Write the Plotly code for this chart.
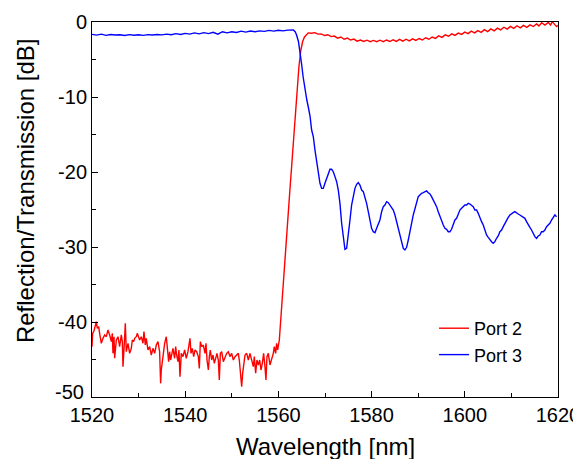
import plotly.graph_objects as go

# ---------------- data ----------------
# Port 2 (reflection) : noisy floor, steep edge, flat top with ripple
port2_wl = [
    1520.00, 1520.14, 1520.43, 1520.72, 1520.93, 1521.14, 1521.43, 1521.64, 1522.00, 1522.36,
    1522.72, 1523.07, 1523.43, 1523.79, 1524.15, 1524.36, 1524.50, 1524.72, 1524.86, 1525.22,
    1525.58, 1525.93, 1526.29, 1526.51, 1526.65, 1526.86, 1527.15, 1527.36, 1527.72, 1528.08,
    1528.44, 1528.65, 1528.94, 1529.15, 1529.51, 1529.72, 1530.01, 1530.22, 1530.58, 1530.94,
    1531.15, 1531.44, 1531.65, 1532.01, 1532.37, 1532.73, 1533.08, 1533.44, 1533.80, 1534.16,
    1534.51, 1534.73, 1534.87, 1535.23, 1535.59, 1535.94, 1536.16, 1536.45, 1536.66, 1536.87,
    1537.16, 1537.37, 1537.73, 1537.95, 1538.16, 1538.45, 1538.66, 1538.88, 1539.16, 1539.52,
    1539.88, 1540.23, 1540.59,
    1541.03, 1541.25, 1541.53, 1541.82, 1542.11, 1542.46, 1542.82, 1543.03, 1543.25, 1543.54,
    1543.89, 1544.25, 1544.46, 1544.68, 1544.97, 1545.18, 1545.39, 1545.68, 1545.97, 1546.25,
    1546.54, 1546.82, 1547.11, 1547.32, 1547.54, 1547.83, 1548.18, 1548.54, 1548.90, 1549.26,
    1549.61, 1549.97, 1550.33, 1550.69, 1551.04, 1551.40, 1551.61, 1551.90, 1552.12, 1552.33,
    1552.54, 1552.83, 1553.19, 1553.55, 1553.90, 1554.26, 1554.62, 1554.83, 1555.12, 1555.40,
    1555.69, 1555.98, 1556.26, 1556.55, 1556.83, 1557.12, 1557.33, 1557.55, 1557.84, 1558.19,
    1558.55, 1558.91, 1559.12, 1559.41, 1559.62, 1559.84,
    1560.20, 1560.60, 1561.20, 1561.80, 1562.40, 1563.00, 1563.50, 1564.00, 1564.40, 1564.80,
    1565.20, 1565.60, 1566.00,
    1566.4, 1567.1, 1567.8, 1568.5, 1569.2, 1569.9, 1570.6, 1571.3, 1572.0, 1572.7,
    1573.4, 1574.1, 1574.8, 1575.5, 1576.2, 1576.9, 1577.6, 1578.3, 1579.0, 1579.7,
    1580.4, 1581.1, 1581.8, 1582.5, 1583.2, 1583.9, 1584.6, 1585.3, 1586.0, 1586.7,
    1587.4, 1588.1, 1588.8, 1589.5, 1590.2, 1590.9, 1591.6, 1592.3, 1593.0, 1593.7,
    1594.4, 1595.1, 1595.8, 1596.5, 1597.2, 1597.9, 1598.6, 1599.3, 1600.0, 1600.7,
    1601.4, 1602.1, 1602.8, 1603.5, 1604.2, 1604.9, 1605.6, 1606.3, 1607.0, 1607.7,
    1608.4, 1609.1, 1609.8, 1610.5, 1611.2, 1611.9, 1612.6, 1613.3, 1614.0, 1614.7,
    1615.4, 1615.9, 1616.5, 1617.2, 1617.9, 1618.4, 1618.8, 1619.3, 1619.7, 1620.0,
]
port2_db = [
    -43.29, -41.51, -41.16, -40.40, -39.96, -40.84, -40.62, -41.51, -42.84, -42.18,
    -41.73, -41.96, -41.07, -41.73, -42.62, -41.51, -44.18, -41.96, -44.84, -42.40,
    -41.96, -43.29, -41.73, -42.62, -45.96, -43.73, -40.18, -43.96, -42.84, -44.18,
    -43.51, -42.40, -42.62, -42.18, -41.96, -41.51, -42.18, -42.40, -41.96, -42.84,
    -41.29, -43.07, -42.18, -43.73, -43.29, -44.40, -43.51, -44.18, -43.07, -42.62,
    -43.96, -48.18, -46.40, -44.18, -42.84, -41.96, -43.51, -45.29, -43.96, -45.07,
    -44.18, -43.51, -44.84, -43.29, -44.40, -45.29, -43.73, -47.29, -44.18, -44.62,
    -43.73, -44.84, -43.96,
    -42.18, -44.18, -43.51, -44.62, -43.73, -43.96, -44.62, -46.18, -42.62, -43.29,
    -43.07, -44.18, -42.84, -45.07, -46.40, -44.62, -43.73, -45.07, -44.40, -45.51,
    -44.84, -44.18, -45.07, -47.73, -44.18, -43.96, -45.29, -44.84, -44.18, -43.96,
    -44.62, -44.18, -45.07, -44.62, -44.40, -44.18, -45.07, -46.62, -48.62, -46.84,
    -45.51, -44.40, -44.18, -45.07, -44.18, -45.07, -45.96, -44.62, -46.84, -45.07,
    -45.73, -45.07, -46.40, -45.51, -44.18, -45.96, -47.73, -44.62, -44.18, -45.73,
    -45.07, -44.18, -43.29, -44.18, -42.84, -43.73,
    -42.40, -38.60, -33.40, -28.20, -23.00, -17.90, -13.50, -9.00, -6.00, -3.80,
    -2.60, -2.00, -1.70,
    -1.45, -1.50, -1.42, -1.62, -1.58, -1.80, -1.70, -1.95, -1.88, -2.15,
    -2.00, -2.30, -2.15, -2.40, -2.28, -2.55, -2.40, -2.60, -2.42, -2.62,
    -2.45, -2.62, -2.42, -2.62, -2.40, -2.60, -2.38, -2.58, -2.32, -2.55,
    -2.30, -2.52, -2.25, -2.45, -2.20, -2.40, -2.10, -2.30, -2.00, -2.18,
    -1.85, -2.05, -1.72, -1.90, -1.58, -1.78, -1.48, -1.65, -1.35, -1.55,
    -1.22, -1.45, -1.15, -1.38, -1.02, -1.28, -0.92, -1.18, -0.82, -1.05,
    -0.70, -0.95, -0.58, -0.85, -0.50, -0.78, -0.45, -0.72, -0.38, -0.60,
    -0.25, -0.52, -0.10, -0.42, -0.05, -0.40, 0.05, -0.35, -0.60, -0.45,
]

# Port 3 (transmission) : flat pass band, steep edge, sidelobes
port3_wl = [
    1520, 1521, 1522, 1523, 1524, 1525, 1526, 1527, 1528, 1529,
    1530, 1531, 1532, 1533, 1534, 1535, 1536, 1537, 1538, 1539,
    1540, 1541, 1542, 1543, 1544, 1545, 1546, 1547, 1548, 1549,
    1550, 1551, 1552, 1553, 1554, 1555, 1556, 1557, 1558, 1559,
    1560, 1561, 1562, 1562.8,
    1563.2, 1563.6, 1563.9, 1564.3, 1564.6, 1565.0, 1565.3, 1565.7, 1566.1, 1566.5, 1566.8,
    1567.13, 1567.49, 1567.85, 1568.21, 1568.56, 1568.92, 1569.28, 1569.64, 1569.99, 1570.35,
    1570.71, 1571.07, 1571.42, 1571.78, 1572.14, 1572.50, 1572.85, 1573.21, 1573.57, 1573.93,
    1574.28, 1574.64, 1575.00, 1575.36, 1575.71, 1576.07, 1576.43, 1576.79, 1577.14, 1577.50,
    1577.86, 1578.22, 1578.57, 1578.93, 1579.29, 1579.65, 1580.00, 1580.36, 1580.72, 1581.08,
    1581.43, 1581.79, 1582.15, 1582.51, 1582.86, 1583.22, 1583.58, 1583.94, 1584.29, 1584.65,
    1585.01, 1585.37, 1585.72, 1586.08, 1586.44, 1586.80, 1587.15, 1587.51, 1587.87, 1588.23,
    1588.58, 1588.94, 1589.30, 1589.66, 1590.01, 1590.37, 1590.73, 1591.09, 1591.44, 1591.80,
    1592.16, 1592.52, 1592.87, 1593.23, 1593.59, 1593.95, 1594.30, 1594.66, 1595.02, 1595.38,
    1595.73, 1596.09, 1596.45, 1596.81, 1597.16, 1597.52, 1597.88, 1598.24, 1598.59, 1598.95,
    1599.31, 1599.67, 1600.02, 1600.38, 1600.74, 1601.10, 1601.45, 1601.81, 1602.17, 1602.53,
    1602.88, 1603.24, 1603.60, 1603.96, 1604.31, 1604.67, 1605.03, 1605.39, 1605.74, 1606.10,
    1606.46, 1606.82, 1607.17, 1607.53, 1607.89, 1608.25, 1608.60, 1608.96, 1609.32, 1609.68,
    1610.03, 1610.39, 1610.75, 1611.11, 1611.46, 1611.82, 1612.18, 1612.54, 1612.89, 1613.25,
    1613.61, 1613.97, 1614.32, 1614.68, 1615.04, 1615.40, 1615.75, 1616.11, 1616.47, 1616.83,
    1617.18, 1617.54, 1617.90, 1618.26, 1618.61, 1618.97, 1619.33, 1619.69,
]
port3_db = [
    -1.65, -1.75, -1.62, -1.78, -1.66, -1.74, -1.70, -1.80, -1.68, -1.76,
    -1.70, -1.78, -1.68, -1.74, -1.66, -1.72, -1.62, -1.70, -1.55, -1.66,
    -1.52, -1.62, -1.45, -1.58, -1.42, -1.55, -1.38, -1.62, -1.30, -1.45,
    -1.30, -1.40, -1.22, -1.35, -1.20, -1.30, -1.18, -1.25, -1.12, -1.22,
    -1.10, -1.18, -1.08, -1.10,
    -1.07, -1.30, -1.73, -2.60, -3.73, -5.70, -7.30, -9.00, -10.40, -11.60, -12.60,
    -14.40, -15.29, -17.07, -18.40, -20.18, -21.51, -22.18, -22.18, -21.51, -20.84,
    -20.18, -19.64, -19.64, -19.96, -20.62, -21.29, -22.40, -24.18, -26.84, -29.07,
    -30.31, -30.18, -28.62, -26.40, -24.40, -23.07, -22.18, -21.64, -21.42, -21.73,
    -22.40, -22.62, -23.29, -24.18, -25.29, -26.40, -27.51, -27.96, -28.09, -27.51,
    -27.07, -26.40, -25.29, -24.62, -24.40, -23.96, -24.09, -24.40, -24.84, -25.07,
    -25.73, -26.62, -27.73, -28.62, -29.29, -30.18, -30.40, -30.04, -29.07, -27.73,
    -26.84, -25.73, -24.84, -23.96, -23.29, -23.07, -22.84, -22.76, -22.62, -22.53,
    -22.76, -22.93, -23.29, -23.73, -23.96, -24.62, -25.29, -25.96, -26.40, -27.07,
    -27.51, -27.64, -27.96, -27.96, -27.64, -26.84, -26.40, -26.18, -25.51, -25.07,
    -24.84, -24.62, -24.40, -24.40, -24.18, -24.27, -24.40, -24.62, -25.07, -25.07,
    -25.51, -26.18, -26.62, -27.07, -27.73, -28.40, -28.71, -29.07, -29.29, -29.51,
    -29.29, -28.84, -28.53, -27.96, -27.73, -27.29, -26.84, -26.40, -26.04, -25.73,
    -25.51, -25.42, -25.29, -25.51, -25.60, -25.73, -25.87, -26.04, -26.18, -26.62,
    -27.07, -27.38, -27.73, -28.18, -28.62, -28.84, -28.53, -28.40, -27.96, -27.96,
    -27.73, -27.29, -27.07, -26.84, -26.40, -25.96, -25.73, -25.96,
]

x_ticks = [1520, 1540, 1560, 1580, 1600, 1620]
y_ticks = [0, -10, -20, -30, -40, -50]
x_title = "Wavelength [nm]"
y_title = "Reflection/Transmission [dB]"

FONT = "Liberation Sans, Arial, sans-serif"

fig = go.Figure()
fig.add_trace(go.Scatter(x=port2_wl, y=port2_db, mode="lines", name="Port 2",
                         line=dict(color="rgb(255,0,0)", width=1.4)))
fig.add_trace(go.Scatter(x=port3_wl, y=port3_db, mode="lines", name="Port 3",
                         line=dict(color="rgb(0,0,255)", width=1.4)))

axis_common = dict(
    showline=True, linecolor="black", linewidth=1, mirror=True,
    ticks="inside", ticklen=6, tickwidth=1, tickcolor="black",
    showgrid=False, zeroline=False,
    tickfont=dict(family=FONT, size=20, color="black"),
)
fig.update_xaxes(range=[1520, 1620], tickvals=x_ticks,
                 ticktext=[str(v) for v in x_ticks],
                 minor=dict(dtick=10, ticks="inside", ticklen=4, tickcolor="black"),
                 **axis_common)
# the lowest y label is drawn as a raised annotation (as in the reference)
y_ticktext = [str(v) for v in y_ticks[:-1]] + [""]
fig.update_yaxes(range=[-50, 0], tickvals=y_ticks, ticktext=y_ticktext,
                 minor=dict(dtick=5, ticks="inside", ticklen=4, tickcolor="black"),
                 **axis_common)

# the page body adds an 8 px offset, so the figure is 8 px smaller
fig.update_layout(
    width=573, height=451,
    margin=dict(l=84, r=23, t=14, b=62, autoexpand=False),
    paper_bgcolor="white", plot_bgcolor="white",
    font=dict(family=FONT, color="black"),
    showlegend=True,
    legend=dict(x=0.734, y=0.148, xanchor="left", yanchor="middle",
                bgcolor="rgba(0,0,0,0)", font=dict(family=FONT, size=18, color="black"),
                tracegroupgap=0),
    annotations=[
        dict(text=x_title, xref="paper", yref="paper", x=0.5, y=-0.133,
             xanchor="center", yanchor="middle", showarrow=False,
             font=dict(family=FONT, size=24, color="black")),
        dict(text=y_title, xref="paper", yref="paper", x=-0.143, y=0.55,
             xanchor="center", yanchor="middle", textangle=-90, showarrow=False,
             font=dict(family=FONT, size=24, color="black")),
        dict(text=str(y_ticks[-1]), xref="paper", yref="y", x=0, y=y_ticks[-1],
             xanchor="right", yanchor="middle", xshift=-6, yshift=5, showarrow=False,
             font=dict(family=FONT, size=20, color="black")),
    ],
)

fig.write_html("out.html")
